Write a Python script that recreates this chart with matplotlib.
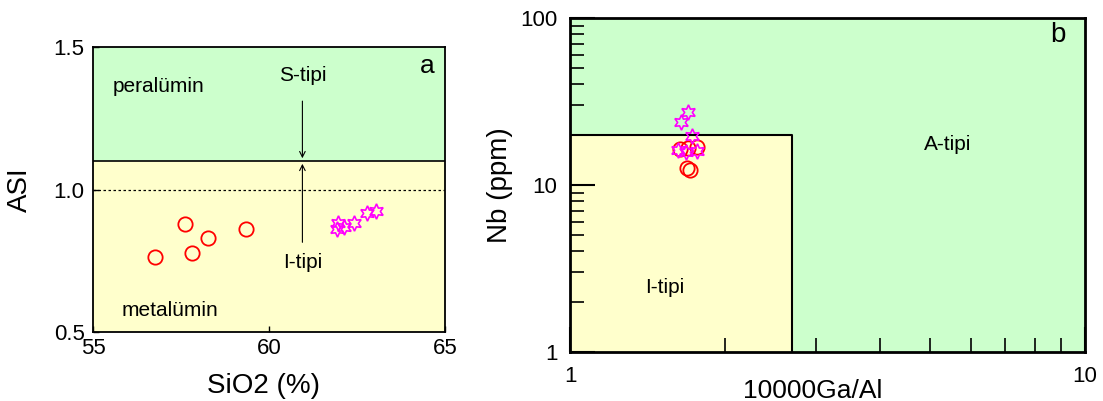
import numpy as np
import matplotlib.pyplot as plt
from matplotlib.ticker import NullFormatter, FixedLocator

plt.rcParams['font.family'] = ['Liberation Sans', 'DejaVu Sans']

# panel a data (SiO2 vs ASI)
a_circ_sio2 = [56.76, 57.61, 57.81, 58.27, 59.35]
a_circ_asi = [0.763, 0.879, 0.777, 0.830, 0.861]
a_star_sio2 = [61.97, 61.92, 62.13, 62.42, 62.78, 63.03]
a_star_asi = [0.884, 0.860, 0.867, 0.881, 0.916, 0.926]

# panel b data (10000Ga/Al vs Nb)
b_circ_gaal = [1.635, 1.697, 1.762, 1.685, 1.710]
b_circ_nb = [16.4, 16.6, 16.95, 12.6, 12.3]
b_star_gaal = [1.697, 1.640, 1.728, 1.623, 1.678, 1.767]
b_star_nb = [27.5, 23.7, 19.7, 16.2, 15.8, 16.0]

green = '#ccffcc'
yellow = '#ffffcc'
star = (6, 1, 0)

fig = plt.figure(figsize=(11.03, 4.01), dpi=100)

# ---- panel a
ax1 = fig.add_axes([0.0843, 0.172, 0.3191, 0.7107])
ax1.set_xlim(55, 65)
ax1.set_ylim(0.5, 1.5)
ax1.axhspan(1.1, 1.5, color=green, zorder=0)
ax1.axhspan(0.5, 1.1, color=yellow, zorder=0)
ax1.axhline(1.1, color='black', lw=1.2)
ax1.axhline(1.0, color='black', lw=0.9, ls=(0, (2, 2)))
ax1.annotate('', xy=(60.95, 1.1), xytext=(60.95, 1.32),
             arrowprops=dict(arrowstyle='->', color='black', lw=0.8))
ax1.annotate('', xy=(60.95, 1.1), xytext=(60.95, 0.805),
             arrowprops=dict(arrowstyle='->', color='black', lw=0.8))
ax1.plot(a_circ_sio2, a_circ_asi, 'o', ms=10.3, mfc='none', mec='red', mew=1.3)
ax1.plot(a_star_sio2, a_star_asi, marker=star, ls='none', ms=11, mfc='none', mec='magenta', mew=1.2)
ax1.text(60.95, 1.40, 'S-tipi', ha='center', va='center', fontsize=15)
ax1.text(60.95, 0.745, 'I-tipi', ha='center', va='center', fontsize=15)
ax1.text(56.85, 1.36, 'peralümin', ha='center', va='center', fontsize=15)
ax1.text(57.2, 0.577, 'metalümin', ha='center', va='center', fontsize=15)
ax1.text(64.7, 1.435, 'a', ha='right', va='center', fontsize=19)
ax1.set_xticks([55, 60, 65])
ax1.set_yticks([0.5, 1.0, 1.5])
ax1.set_yticklabels(['0.5', '1.0', '1.5'])
ax1.tick_params(direction='in', length=4, labelsize=16, width=1)
ax1.tick_params(axis='x', pad=4)
ax1.tick_params(axis='y', pad=6)
ax1.set_xlabel('SiO2 (%)', fontsize=20)
ax1.xaxis.set_label_coords(0.485, -0.145)
ax1.set_ylabel('ASI', fontsize=20)
ax1.yaxis.set_label_coords(-0.17, 0.5)
for s in ax1.spines.values():
    s.set_linewidth(1.3)

# ---- panel b
ax2 = fig.add_axes([0.5168, 0.1222, 0.4669, 0.8329])
ax2.set_xscale('log')
ax2.set_yscale('log')
ax2.set_xlim(1, 10)
ax2.set_ylim(1, 100)
ax2.fill_between([1, 10], 1, 100, color=green, zorder=0)
ax2.fill_between([1, 2.7], 1, 20, color=yellow, zorder=0)
ax2.plot([1, 2.7, 2.7], [20, 20, 1], color='black', lw=1.5)
ax2.plot(b_circ_gaal, b_circ_nb, 'o', ms=10.3, mfc='none', mec='red', mew=1.3)
ax2.plot(b_star_gaal, b_star_nb, marker=star, ls='none', ms=11, mfc='none', mec='magenta', mew=1.2)
ax2.text(5.42, 17.4, 'A-tipi', ha='center', va='center', fontsize=15)
ax2.text(1.53, 2.42, 'I-tipi', ha='center', va='center', fontsize=15)
ax2.text(8.86, 79, 'b', ha='center', va='center', fontsize=20)
ax2.xaxis.set_major_locator(FixedLocator([1, 10]))
ax2.set_xticklabels(['1', '10'])
ax2.xaxis.set_minor_locator(FixedLocator([2, 3, 4, 5, 6, 7, 8, 9]))
ax2.xaxis.set_minor_formatter(NullFormatter())
ax2.yaxis.set_major_locator(FixedLocator([1, 10, 100]))
ax2.set_yticklabels(['1', '10', '100'])
ax2.yaxis.set_minor_locator(FixedLocator([2, 3, 4, 5, 6, 7, 8, 9, 20, 30, 40, 50, 60, 70, 80, 90]))
ax2.yaxis.set_minor_formatter(NullFormatter())
ax2.tick_params(which='major', direction='in', length=18, width=1.5, labelsize=16)
ax2.tick_params(which='minor', direction='in', length=10, width=1.2)
ax2.tick_params(axis='x', which='major', pad=10)
ax2.tick_params(axis='y', which='major', pad=9)
ax2.set_xlabel('10000Ga/Al', fontsize=19)
ax2.xaxis.set_label_coords(0.472, -0.08)
ax2.set_ylabel('Nb (ppm)', fontsize=20)
ax2.yaxis.set_label_coords(-0.11, 0.5)
for s in ax2.spines.values():
    s.set_linewidth(2)

fig.savefig('out.png', dpi=100)
